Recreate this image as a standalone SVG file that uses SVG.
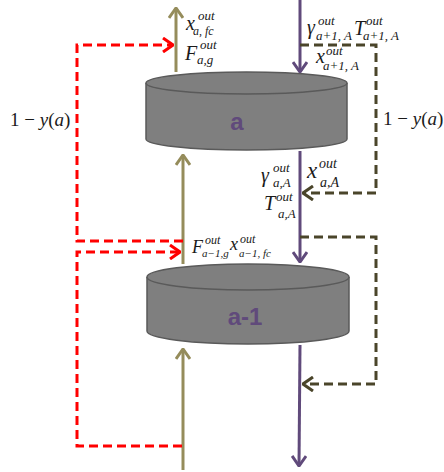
<svg xmlns="http://www.w3.org/2000/svg" width="444" height="472" viewBox="0 0 444 472">
<style>
.cyl{fill:#7f7f7f;stroke:#5a5a5a;stroke-width:1.5}
.lbl{font-family:"Liberation Sans",Arial,sans-serif;font-weight:bold;font-size:24px;fill:#604a7b;text-anchor:middle}
.m{font-family:"Liberation Serif","Times New Roman",serif;font-style:italic;fill:#1a1a1a}
.r{font-style:normal}
.olive{stroke:#958c5b;stroke-width:3;fill:none}
.purple{stroke:#604a7b;stroke-width:3;fill:none}
.red{stroke:#ff0000;stroke-width:3;fill:none;stroke-dasharray:9 5}
.dark{stroke:#4a452a;stroke-width:3;fill:none;stroke-dasharray:9 5}
</style>
<defs>
<marker id="aO" viewBox="0 0 12 16" markerWidth="12" markerHeight="16" refX="11" refY="8" orient="auto" markerUnits="userSpaceOnUse"><path d="M1,1 L11,8 L1,15" fill="none" stroke="#958c5b" stroke-width="3"/></marker>
<marker id="aP" viewBox="0 0 12 16" markerWidth="12" markerHeight="16" refX="11" refY="8" orient="auto" markerUnits="userSpaceOnUse"><path d="M1,1 L11,8 L1,15" fill="none" stroke="#604a7b" stroke-width="3"/></marker>
<marker id="aR" viewBox="0 0 12 16" markerWidth="12" markerHeight="16" refX="11" refY="8" orient="auto" markerUnits="userSpaceOnUse"><path d="M1,1 L11,8 L1,15" fill="none" stroke="#ff0000" stroke-width="3"/></marker>
<marker id="aD" viewBox="0 0 12 16" markerWidth="12" markerHeight="16" refX="11" refY="8" orient="auto" markerUnits="userSpaceOnUse"><path d="M1,1 L11,8 L1,15" fill="none" stroke="#4a452a" stroke-width="3"/></marker>
</defs>

<g id="node-a">
<path class="cyl" d="M146,83 V139 A100.5,11 0 0 0 347,139 V83"/>
<ellipse class="cyl" cx="246.5" cy="83" rx="100.5" ry="11"/>
<text class="lbl" x="237" y="130">a</text>
</g>
<g id="node-a-1">
<path class="cyl" d="M147,277 V331 A101,13 0 0 0 349,331 V277"/>
<ellipse class="cyl" cx="248" cy="277" rx="101" ry="13"/>
<text class="lbl" x="245" y="325">a-1</text>
</g>

<g id="connectors">
<path class="olive" d="M183,470 V349" marker-end="url(#aO)"/>
<path class="olive" d="M183,264 V155" marker-end="url(#aO)"/>
<path class="olive" d="M176,72 V8" marker-end="url(#aO)"/>
<path class="purple" d="M300,0 V72" marker-end="url(#aP)"/>
<path class="purple" d="M300,151 V262" marker-end="url(#aP)"/>
<path class="purple" d="M300,345 L299,466" marker-end="url(#aP)"/>
<path class="red" d="M183,241 H77 V45 H173" marker-end="url(#aR)"/>
<path class="red" d="M182,446 H77 V252 H180" marker-end="url(#aR)"/>
<path class="dark" d="M300,45 H376 V193 H303" marker-end="url(#aD)"/>
<path class="dark" d="M300,237 H376 V384 H303" marker-end="url(#aD)"/>
</g>

<g id="labels">
<text class="m" x="10" y="126" font-size="19"><tspan class="r">1 − </tspan>y<tspan class="r">(</tspan>a<tspan class="r">)</tspan></text>
<text class="m" x="383" y="125" font-size="19"><tspan class="r">1 − </tspan>y<tspan class="r">(</tspan>a<tspan class="r">)</tspan></text>

<text class="m" x="186" y="30" font-size="20">x</text>
<text class="m" x="198" y="20" font-size="13">out</text>
<text class="m" x="193" y="35" font-size="12">a, fc</text>
<text class="m" x="185" y="60" font-size="20">F</text>
<text class="m" x="200" y="49" font-size="13">out</text>
<text class="m" x="197" y="64" font-size="13">a,g</text>

<text class="m" x="307" y="34" font-size="20">γ</text>
<text class="m" x="318" y="25" font-size="13">out</text>
<text class="m" x="316" y="40" font-size="13">a+1, A</text>
<text class="m" x="354" y="35" font-size="20">T</text>
<text class="m" x="366" y="25" font-size="13">out</text>
<text class="m" x="363" y="40" font-size="13">a+1, A</text>
<text class="m" x="316" y="63" font-size="20">x</text>
<text class="m" x="326" y="55" font-size="13">out</text>
<text class="m" x="323" y="70" font-size="13">a+1, A</text>

<text class="m" x="261" y="182" font-size="20">γ</text>
<text class="m" x="273" y="172" font-size="13">out</text>
<text class="m" x="273" y="187" font-size="13">a,A</text>
<text class="m" x="264" y="210" font-size="20">T</text>
<text class="m" x="276" y="201" font-size="13">out</text>
<text class="m" x="278" y="218" font-size="13">a,A</text>
<text class="m" x="307" y="178" font-size="23">x</text>
<text class="m" x="319" y="168" font-size="14">out</text>
<text class="m" x="320" y="187" font-size="14">a,A</text>

<text class="m" x="192" y="253" font-size="18">F</text>
<text class="m" x="205" y="244" font-size="12">out</text>
<text class="m" x="202" y="257" font-size="11">a−1,g</text>
<text class="m" x="230" y="250" font-size="18">x</text>
<text class="m" x="240" y="243" font-size="12">out</text>
<text class="m" x="239" y="257" font-size="11">a−1, fc</text>
</g>
</svg>
